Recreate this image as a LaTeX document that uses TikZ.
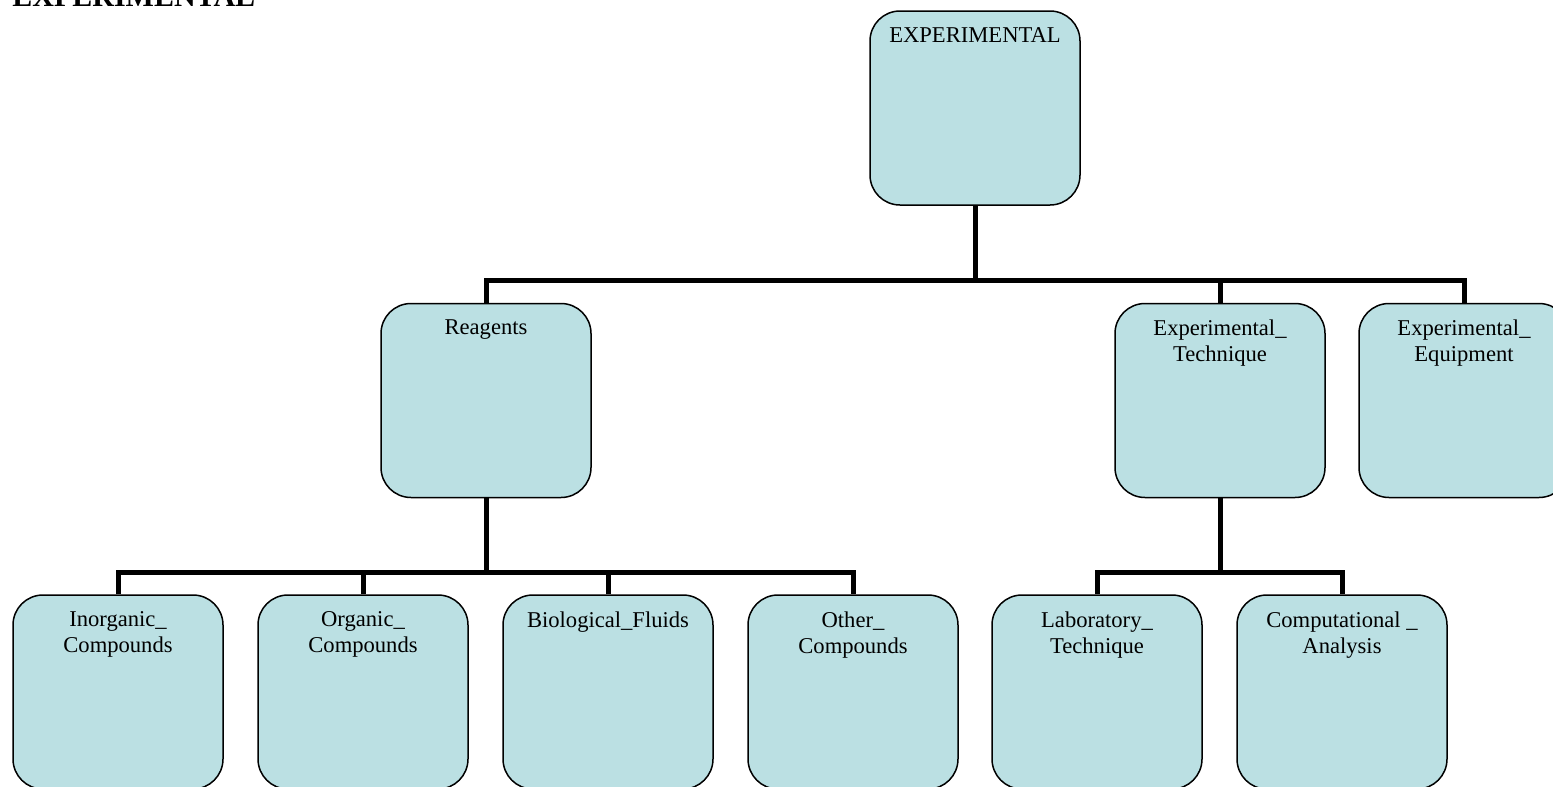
\documentclass[tikz,border=0pt]{standalone}
\usepackage{fontspec}
\setmainfont{Liberation Serif}
\definecolor{boxfill}{RGB}{187,224,227}
\tikzset{
  box/.style={draw=black, line width=0.75pt, fill=boxfill, rounded corners=15pt,
    minimum width=105pt, minimum height=97pt, inner sep=0pt},
  txt/.style={anchor=north, align=center, inner sep=0pt, yshift=-8.5pt,
    font=\fontsize{11.3}{13}\selectfont},
  conn/.style={line width=2.5pt, line join=miter}
}
\begin{document}
\begin{tikzpicture}[x=0.5pt,y=-0.5pt]
                \useasboundingbox (0,0) rectangle (1553,787);
                \clip (0,0) rectangle (1553,787);
                \node[anchor=base west, inner sep=0pt, font=\bfseries\fontsize{15}{18}\selectfont] (title) at (12,6) {EXPERIMENTAL};
                \node[box, label={[txt]north:EXPERIMENTAL}] (root) at (975,108) {};
                \node[box, label={[txt]north:Reagents}] (reag) at (486,400.5) {};
                \node[box, label={[txt]north:{Experimental\_\\Technique}}] (tech) at (1220,400.5) {};
                \node[box, label={[txt]north:{Experimental\_\\Equipment}}] (equip) at (1464,400.5) {};
                \node[box, label={[txt]north:{Inorganic\_\\Compounds}}] (inorg) at (118,692) {};
                \node[box, label={[txt]north:{Organic\_\\Compounds}}] (org) at (363,692) {};
                \node[box, label={[txt]north:Biological\_Fluids}] (bio) at (608,692) {};
                \node[box, label={[txt]north:{Other\_\\Compounds}}] (other) at (853,692) {};
                \node[box, label={[txt]north:{Laboratory\_\\Technique}}] (lab) at (1097,692) {};
                \node[box, label={[txt]north:{Computational \_\\Analysis}}] (comp) at (1342,692) {};
                \coordinate (busT) at (975,280);
                \coordinate (busR) at (486,572);
                \coordinate (busE) at (1220,572);
                \draw[conn] (root.south) -- (busT);
                \draw[conn] (reag.north) |- (busT) -| (equip.north);
                \draw[conn] (tech.north) -- (tech.north |- busT);
                \draw[conn] (reag.south) -- (busR);
                \draw[conn] (inorg.north) |- (busR) -| (other.north);
                \foreach \n in {org,bio}
                    \draw[conn] (\n.north) -- (\n.north |- busR);
                \draw[conn] (tech.south) -- (busE);
                \draw[conn] (lab.north) |- (busE) -| (comp.north);
            \end{tikzpicture}
\end{document}
